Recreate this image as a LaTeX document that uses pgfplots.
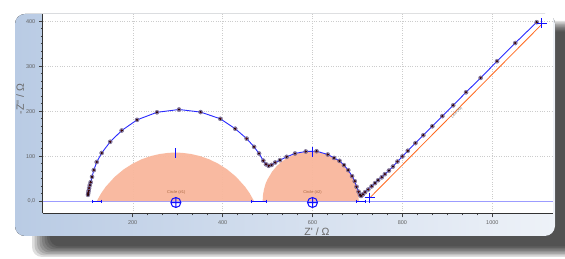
\documentclass[border=0pt]{standalone}
\usepackage{fontspec}
\setmainfont{Liberation Sans}[Ligatures=TeXOff]
\usepackage{pgfplots}
\usepackage{pgfplotstable}
\pgfplotsset{compat=1.18}
\definecolor{fitblue}{HTML}{2A2AFF}
\definecolor{markblue}{HTML}{1010FF}
\definecolor{circfill}{HTML}{F9B79C}
\definecolor{orangeline}{HTML}{FF6A1F}
\definecolor{panelL}{HTML}{B9CBE4}
\definecolor{panelR}{HTML}{EEF2F8}
\definecolor{labgray}{HTML}{6A6A6A}
\definecolor{zeroline}{HTML}{9C9CFF}
\definecolor{markfill}{HTML}{8A78B0}
\definecolor{circtext}{HTML}{A8653F}

\pgfplotstableread{
X Y
100.5 14
101 18
102 23
103 29
104.5 35.5
106.5 42
109.5 54
113.5 69
120 87
131 107
150 132
175.5 157
209.7 180.7
254 197.5
303 203.7
351 198
395 183
428 161
453.5 139
470 120.7
481 106
490.5 90
496.5 82
502.5 78.5
509 80.5
517 86
527.5 91
542.5 98.5
561 106
585 110.4
609 111
634 103.7
648 96
660 89.6
670 80
679.5 69
688 55.6
694 44.4
698 32
702.5 21
705.5 14
708 11.5
712 15
717 20
724 26
731.5 33
739 40
746 46.5
754 53
761 60
770 68
779 77
789 88
800 99.5
812 112
829 129
846.5 146.5
866.5 166.5
888.8 189
913 213
941.5 242
974 274
1010.5 311
1051 351.5
1098.8 397.8
}\nyquist

\begin{document}
\begin{tikzpicture}[x=1pt,y=1pt]
\useasboundingbox (0,0) rectangle (565,259);
\fill[white] (0,0) rectangle (565,259);
% drop shadow
\foreach \i in {0,...,7}{
  \fill[black, opacity=0.13, rounded corners=10pt] ({32+2.5*\i},{2+1.5*\i}) rectangle ({585-1.5*\i},{238-1.5*\i});
}
% panel
\fill[rounded corners=10pt, left color=panelL, right color=panelR] (15,23) rectangle (555,245);

\begin{axis}[
  at={(42.8pt,45.7pt)}, anchor=south west,
  scale only axis, width=510.2pt, height=199.3pt,
  xmin=0, xmax=1135, ymin=-27, ymax=416,
  axis x line=bottom, axis y line=left,
  axis line style={-, black!80, line width=0.7pt},
  tick align=outside,
  xtick={200,400,600,800,1000}, xticklabels={200,400,600,800,1000},
  ytick={0,100,200,300,400}, yticklabels={0{,}0,100,200,300,400},
  minor tick num=5,
  major tick length=4pt, minor tick length=2pt,
  tick style={black!75, line width=0.5pt},
  grid=major,
  major grid style={dotted, black!20, line width=0.4pt},
  ticklabel style={font=\fontsize{5.5}{6.5}\selectfont, text=black!62},
  axis background/.style={fill=white},
]
% zero line
\addplot[color=zeroline, line width=0.5pt] coordinates {(0,0) (1135,0)};
% circle 1 (depressed)
\addplot[fill=circfill, draw=none, fill opacity=0.95] coordinates {
(120,0) (130,17.8) (140,32.0) (160,54.1) (180,70.7) (200,83.4) (220,93.1) (240,100.1) (260,104.8) (280,107.4) (295,108)
(310,107.4) (330,104.8) (350,100.1) (370,93.1) (390,83.4) (410,70.7) (430,54.1) (450,32.0) (460,17.8) (470,0)};
% circle 2
\addplot[fill=circfill, draw=none, fill opacity=0.95] coordinates {
(489,0) (490,15) (492,25.9) (496,40) (500,48.6) (510,65.4) (520,77.4) (530,86.5) (540,93.7) (550,99.5) (560,103.6) (570,106.7) (580,108.8) (596,110)
(612,108.8) (622,106.7) (632,103.6) (642,99.5) (652,93.7) (662,86.5) (672,77.4) (682,65.4) (692,48.6) (696,40) (700,25.9) (702,15) (703,0)};
% line 3
\addplot[color=orangeline, line width=0.8pt] coordinates {(728,8) (1110,393)};
% fit curve
\addplot[color=fitblue, line width=0.9pt] table[x=X,y=Y] {\nyquist};
\addplot[only marks, mark=*, mark size=2.1pt, mark options={fill=markfill, draw=markfill!60!black, fill opacity=0.85, draw opacity=0.8, line width=0.3pt}] table[x=X,y=Y] {\nyquist};
\addplot[only marks, mark=*, mark size=0.9pt, mark options={fill=red, draw=none}] table[x=X,y=Y] {\nyquist};
% element markers
\addplot[color=markblue, line width=1pt, mark=|, mark size=1.6pt] coordinates {(110,0) (131,0)};
\addplot[color=markblue, line width=1pt, mark=|, mark size=1.6pt] coordinates {(465,0) (498,0)};
\addplot[color=markblue, line width=1pt, mark=|, mark size=1.6pt] coordinates {(697,0) (717,0)};
\addplot[color=markblue, line width=1.1pt] coordinates {(296,97) (296,118)};
\addplot[color=markblue, line width=1.1pt] coordinates {(600,98) (600,121)};
\addplot[color=markblue, only marks, mark=oplus, mark size=5pt, mark options={line width=1pt}] coordinates {(296,-3) (600,-3)};
\addplot[color=markblue, only marks, mark=+, mark size=5pt, mark options={line width=1.1pt}] coordinates {(727,8) (1110,395)};
\node[font=\fontsize{4}{5}\selectfont, text=circtext] at (axis cs:297,20) {Circle (\#1)};
\node[font=\fontsize{4}{5}\selectfont, text=circtext] at (axis cs:600,20) {Circle (\#2)};
\node[font=\fontsize{3.5}{4}\selectfont, text=black!60, rotate=45] at (axis cs:921,197) {Line (\#3)};
\end{axis}
\node[font=\fontsize{10.5}{12}\selectfont, text=labgray, rotate=90] at (20,160) {-Z'' / Ω};
\node[font=\fontsize{10.5}{12}\selectfont, text=labgray] at (317,27) {Z' / Ω};
\end{tikzpicture}
\end{document}
